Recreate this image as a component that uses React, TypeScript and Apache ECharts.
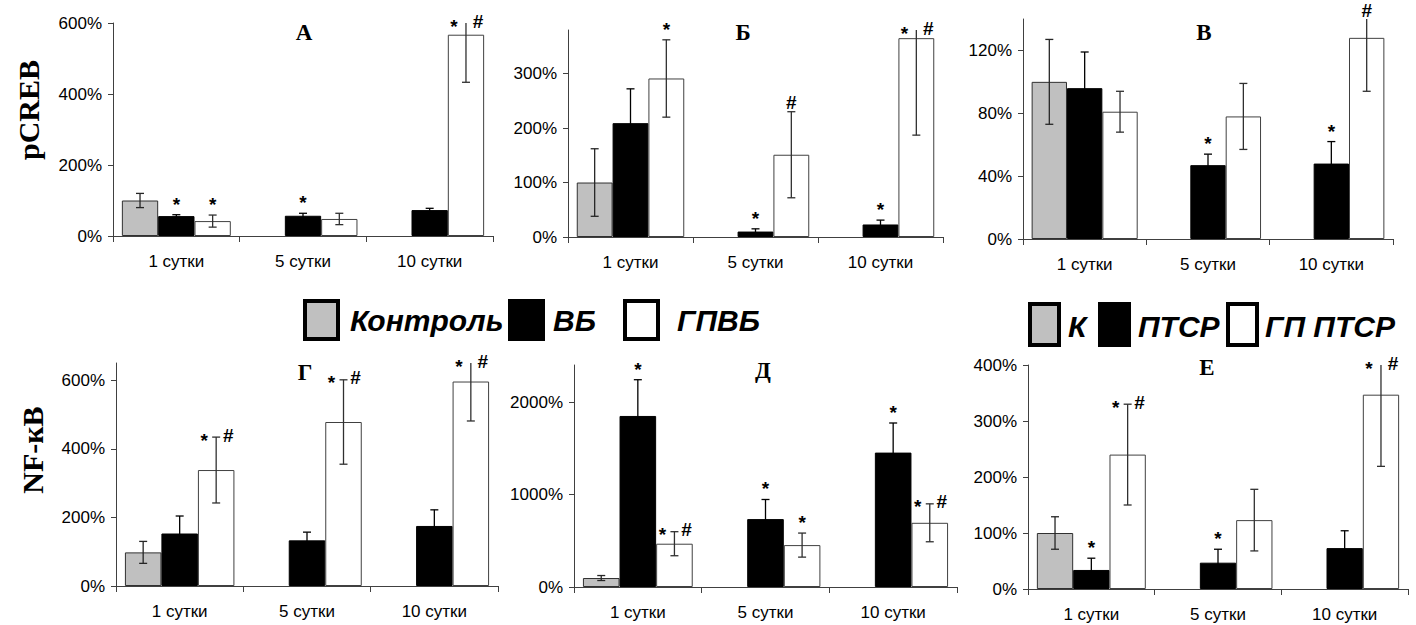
import React, { useEffect, useRef } from 'react';
import * as echarts from 'echarts';

const categories = ['1 сутки', '5 сутки', '10 сутки'];

// Panel А (pCREB, ВБ)
const aControl = [100, '-', '-'];
const aControlErr = [20, 0, 0];
const aVB = [56, 57, 73];
const aVBErr = [4, 7, 5];
const aGPVB = [42, 48, 567];
const aGPVBErr = [17, 16, 134];
const aMarksVB = ['*', '*', ''];
const aMarksGPVB = ['*', '', '*#'];

// Panel Б (pCREB, ПТСР)
const bControl = [100, '-', '-'];
const bControlErr = [62, 0, 0];
const bPTSR = [209, 10, 23];
const bPTSRErr = [63, 5, 8];
const bGPPTSR = [291, 151, 365];
const bGPPTSRErr = [71, 79, 178];
const bMarksPTSR = ['', '*', '*'];
const bMarksGPPTSR = ['*', '#', '*#'];

// Panel В (pCREB, ПТСР)
const vControl = [100, '-', '-'];
const vControlErr = [27, 0, 0];
const vPTSR = [96, 47, 48];
const vPTSRErr = [23, 7, 14];
const vGPPTSR = [81, 78, 128];
const vGPPTSRErr = [13, 21, 34];
const vMarksPTSR = ['', '*', '*'];
const vMarksGPPTSR = ['', '', '#'];

// Panel Г (NF-кВ, ВБ)
const gControl = [98, '-', '-'];
const gControlErr = [32, 0, 0];
const gVB = [153, 133, 175];
const gVBErr = [51, 24, 47];
const gGPVB = [338, 478, 596];
const gGPVBErr = [96, 123, 115];
const gMarksVB = ['', '', ''];
const gMarksGPVB = ['*#', '*#', '*#'];

// Panel Д (NF-кВ, ПТСР)
const dControl = [97, '-', '-'];
const dControlErr = [27, 0, 0];
const dPTSR = [1849, 734, 1453];
const dPTSRErr = [392, 212, 320];
const dGPPTSR = [468, 453, 694];
const dGPPTSRErr = [130, 130, 205];
const dMarksPTSR = ['*', '*', '*'];
const dMarksGPPTSR = ['*#', '*', '*#'];

// Panel Е (NF-кВ, ПТСР)
const eControl = [100, '-', '-'];
const eControlErr = [29, 0, 0];
const ePTSR = [34, 47, 73];
const ePTSRErr = [21, 24, 31];
const eGPPTSR = [240, 123, 347];
const eGPPTSRErr = [90, 55, 128];
const eMarksPTSR = ['*', '*', ''];
const eMarksGPPTSR = ['*#', '', '*#'];

const noMarks = ['', '', ''];

const panels = [
  { title: 'А', max: 600, interval: 200, values: [aControl, aVB, aGPVB], errs: [aControlErr, aVBErr, aGPVBErr], marks: [noMarks, aMarksVB, aMarksGPVB] },
  { title: 'Б', max: 380, interval: 100, values: [bControl, bPTSR, bGPPTSR], errs: [bControlErr, bPTSRErr, bGPPTSRErr], marks: [noMarks, bMarksPTSR, bMarksGPPTSR] },
  { title: 'В', max: 140, interval: 40, values: [vControl, vPTSR, vGPPTSR], errs: [vControlErr, vPTSRErr, vGPPTSRErr], marks: [noMarks, vMarksPTSR, vMarksGPPTSR] },
  { title: 'Г', max: 650, interval: 200, values: [gControl, gVB, gGPVB], errs: [gControlErr, gVBErr, gGPVBErr], marks: [noMarks, gMarksVB, gMarksGPVB] },
  { title: 'Д', max: 2400, interval: 1000, values: [dControl, dPTSR, dGPPTSR], errs: [dControlErr, dPTSRErr, dGPPTSRErr], marks: [noMarks, dMarksPTSR, dMarksGPPTSR] },
  { title: 'Е', max: 400, interval: 100, values: [eControl, ePTSR, eGPPTSR], errs: [eControlErr, ePTSRErr, eGPPTSRErr], marks: [noMarks, eMarksPTSR, eMarksGPPTSR] },
];

const legend1 = ['Контроль', 'ВБ', 'ГПВБ'];
const legend2 = ['К', 'ПТСР', 'ГП ПТСР'];

const grids = [
  { left: 113, top: 23, width: 380, height: 213 },
  { left: 568, top: 30, width: 375, height: 207 },
  { left: 1023, top: 19, width: 370, height: 220 },
  { left: 116, top: 363, width: 382, height: 223 },
  { left: 574, top: 365, width: 383, height: 222 },
  { left: 1028, top: 365, width: 380, height: 224 },
];
const titlePos = [[304, 32], [743, 32], [1204, 32], [305, 372], [763, 370], [1207, 367]];

const fills = ['#C0C0C0', '#000000', '#FFFFFF'];
const borders = ['#303030', '#000000', '#404040'];
const errColors = ['#262626', '#000000', '#303030'];
const SANS = 'Arial, "Liberation Sans", sans-serif';
const SERIF = '"Times New Roman", "Liberation Serif", serif';
const CAT_GAP = 0.14;

function buildOption() {
  const series: any[] = [];
  panels.forEach((p, pi) => {
    for (let s = 0; s < 3; s++) {
      series.push({
        type: 'bar',
        xAxisIndex: pi,
        yAxisIndex: pi,
        data: p.values[s],
        barGap: '0%',
        barCategoryGap: CAT_GAP * 100 + '%',
        silent: true,
        itemStyle: { color: fills[s], borderColor: borders[s], borderWidth: 1 },
      });
    }
    for (let s = 0; s < 3; s++) {
      const data = p.values[s]
        .map((v: any, i: number) => (v === '-' ? null : [i, v, p.errs[s][i]]))
        .filter((d: any) => d !== null);
      series.push({
        type: 'custom',
        xAxisIndex: pi,
        yAxisIndex: pi,
        data,
        silent: true,
        z: 5,
        renderItem: (params: any, api: any) => {
          const ci = api.value(0);
          const v = api.value(1);
          const e = api.value(2);
          const base = api.coord([ci, v]);
          const catW = api.size([1, 0])[0];
          const barW = (catW * (1 - CAT_GAP)) / 3;
          const x = base[0] + (s - 1) * barW;
          const hiVal = v + e;
          const clipped = hiVal > p.max;
          const yHi = api.coord([ci, Math.min(hiVal, p.max)])[1];
          const yLo = api.coord([ci, Math.max(v - e, 0)])[1];
          const stroke = errColors[s];
          const cap = 4;
          const children: any[] = [
            { type: 'line', shape: { x1: x, y1: yLo, x2: x, y2: yHi }, style: { stroke, lineWidth: 1.3 } },
            { type: 'line', shape: { x1: x - cap, y1: yLo, x2: x + cap, y2: yLo }, style: { stroke, lineWidth: 1.3 } },
          ];
          if (!clipped) {
            children.push({ type: 'line', shape: { x1: x - cap, y1: yHi, x2: x + cap, y2: yHi }, style: { stroke, lineWidth: 1.3 } });
          }
          const m = p.marks[s][ci];
          const font = 'bold 19px ' + SANS;
          if (m === '*') {
            children.push({
              type: 'text',
              style: { text: m, x, y: yHi - 10.5, font, fill: '#000', align: 'center', verticalAlign: 'middle' },
            });
          } else if (m === '#') {
            children.push({
              type: 'text',
              style: { text: m, x, y: yHi - 9, font, fill: '#000', align: 'center', verticalAlign: 'middle' },
            });
          } else if (m === '*#') {
            children.push({
              type: 'text',
              style: { text: '*', x: x - 12, y: yHi + 3, font, fill: '#000', align: 'center', verticalAlign: 'middle' },
            });
            children.push({
              type: 'text',
              style: { text: '#', x: x + 12, y: yHi - 2, font, fill: '#000', align: 'center', verticalAlign: 'middle' },
            });
          }
          return { type: 'group', children };
        },
      });
    }
  });

  const axisLineStyle = { color: '#404040', width: 1 };
  const xAxis = panels.map((p, pi) => ({
    type: 'category',
    gridIndex: pi,
    data: categories,
    axisLine: { show: true, lineStyle: axisLineStyle },
    axisTick: { show: true, length: 6, lineStyle: axisLineStyle },
    axisLabel: { fontSize: 17, color: '#000', fontFamily: SANS, margin: 17 },
  }));
  const yAxis = panels.map((p, pi) => ({
    type: 'value',
    gridIndex: pi,
    min: 0,
    max: p.max,
    interval: p.interval,
    splitLine: { show: false },
    axisLine: { show: true, lineStyle: axisLineStyle },
    axisTick: { show: true, length: 5, lineStyle: axisLineStyle },
    axisLabel: {
      fontSize: 17,
      color: '#000',
      fontFamily: SANS,
      margin: 11,
      showMaxLabel: p.max % p.interval === 0,
      formatter: (v: number) => (v % p.interval === 0 ? v + '%' : ''),
    },
  }));

  const graphic: any[] = [];
  panels.forEach((p, pi) => {
    graphic.push({
      type: 'text',
      x: titlePos[pi][0],
      y: titlePos[pi][1],
      style: { text: p.title, font: 'bold 23px ' + SERIF, fill: '#000', align: 'center', verticalAlign: 'middle' },
    });
  });
  graphic.push({
    type: 'text', x: 28, y: 110, rotation: Math.PI / 2,
    style: { text: 'pCREB', font: 'bold 30px ' + SERIF, fill: '#000', align: 'center', verticalAlign: 'middle' },
  });
  graphic.push({
    type: 'text', x: 32, y: 450, rotation: Math.PI / 2,
    style: { text: 'NF-кВ', font: 'bold 30px ' + SERIF, fill: '#000', align: 'center', verticalAlign: 'middle' },
  });

  const legFont = 'italic bold 30px ' + SANS;
  const leg1Sq = [305, 510, 625];
  const leg1Tx = [350, 553, 677];
  legend1.forEach((name, i) => {
    graphic.push({ type: 'rect', shape: { x: leg1Sq[i], y: 301, width: 33, height: 38 }, style: { fill: fills[i], stroke: '#000', lineWidth: 4 } });
    graphic.push({ type: 'text', x: leg1Tx[i], y: 320, style: { text: name, font: legFont, fill: '#000', align: 'left', verticalAlign: 'middle' } });
  });
  const leg2Sq = [1030, 1100, 1228];
  const leg2Tx = [1068, 1138, 1265];
  legend2.forEach((name, i) => {
    graphic.push({ type: 'rect', shape: { x: leg2Sq[i], y: 304, width: 29, height: 41 }, style: { fill: fills[i], stroke: '#000', lineWidth: 4 } });
    graphic.push({ type: 'text', x: leg2Tx[i], y: 326, style: { text: name, font: legFont, fill: '#000', align: 'left', verticalAlign: 'middle' } });
  });

  return {
    animation: false,
    backgroundColor: '#fff',
    grid: grids.map((g) => ({ ...g, containLabel: false })),
    xAxis,
    yAxis,
    series,
    graphic,
  };
}

export default function App() {
  const ref = useRef<HTMLDivElement>(null);
  useEffect(() => {
    if (!ref.current) return;
    const chart = echarts.init(ref.current, undefined, { renderer: 'svg' });
    chart.setOption(buildOption() as any);
    return () => chart.dispose();
  }, []);
  return <div ref={ref} style={{ position: 'absolute', left: 0, top: 0, width: 1416, height: 625 }} />;
}
